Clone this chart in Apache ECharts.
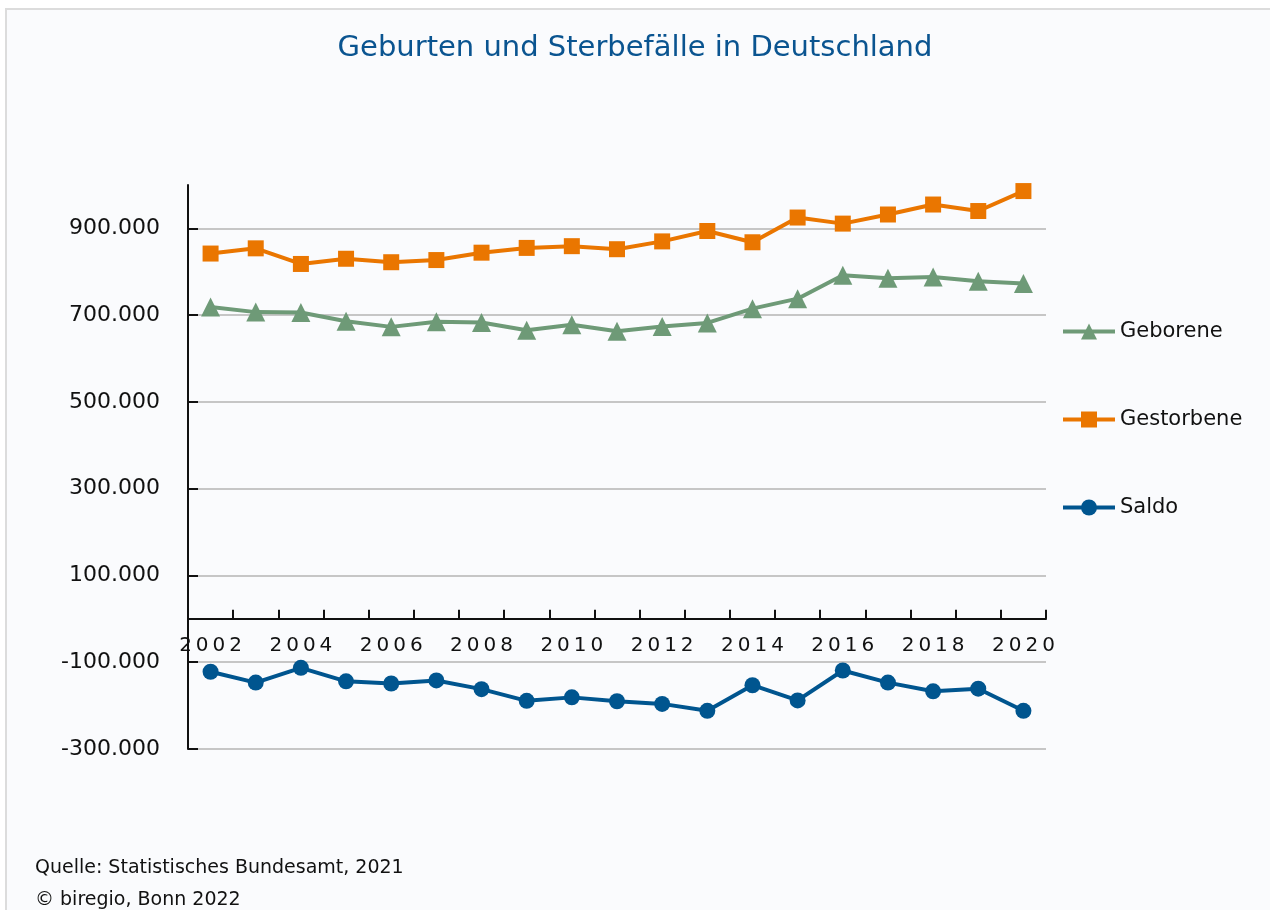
<!DOCTYPE html>
<html>
<head>
<meta charset="utf-8">
<script src="https://cdn.jsdelivr.net/npm/echarts@6/dist/echarts.min.js"></script>
<style>
  html, body { margin: 0; padding: 0; background: #ffffff; }
  #frame {
    position: absolute; left: 5px; top: 8px; width: 1280px; height: 920px;
    background: #fafbfd; border-left: 2px solid #dcdcdc; border-top: 2px solid #dcdcdc;
  }
  #chart { position: absolute; left: 0; top: 0; width: 1270px; height: 910px; }
</style>
</head>
<body>
<div id="frame"></div>
<div id="chart"></div>
<script>
const years = ["2002", "2003", "2004", "2005", "2006", "2007", "2008", "2009", "2010", "2011",
  "2012", "2013", "2014", "2015", "2016", "2017", "2018", "2019", "2020"];

const geborene = [719000, 707000, 706000, 686000, 673000, 685000, 683000, 665000, 678000, 663000,
  674000, 682000, 715000, 738000, 792000, 785000, 788000, 778000, 773000];

const gestorbene = [842000, 854000, 818000, 830000, 822000, 827000, 844000, 855000, 859000, 852000,
  870000, 894000, 868000, 925000, 911000, 932000, 955000, 940000, 986000];

const saldo = [-122000, -147000, -113000, -144000, -149000, -142000, -162000, -189000, -181000, -190000,
  -196000, -212000, -153000, -188000, -119000, -147000, -167000, -161000, -212000];

const yTicks = [-300000, -100000, 100000, 300000, 500000, 700000, 900000];

const FONT = "DejaVu Sans";
const GREEN = "#6e9a77";
const ORANGE = "#ea7600";
const BLUE = "#00558f";

function formatThousands(value) {
  const sign = value < 0 ? "-" : "";
  const abs = Math.abs(value);
  return sign + String(abs).replace(/\B(?=(\d{3})+(?!\d))/g, ".");
}

function lineSeries(name, data, color, symbol, size) {
  return {
    name,
    type: "line",
    data,
    symbol,
    symbolSize: size,
    showAllSymbol: true,
    lineStyle: { width: 4, color },
    itemStyle: { color },
    emphasis: { disabled: true },
    animation: false
  };
}

const chart = echarts.init(document.getElementById("chart"));

chart.setOption({
  backgroundColor: "transparent",
  animation: false,
  title: [
    {
      text: "Geburten und Sterbefälle in Deutschland",
      left: "center",
      top: 29,
      textStyle: { fontFamily: FONT, fontSize: 29, fontWeight: "normal", color: "#0a5490" }
    },
    {
      text: "Quelle: Statistisches Bundesamt, 2021\n© biregio, Bonn 2022",
      left: 30,
      top: 847,
      textStyle: { fontFamily: FONT, fontSize: 19, fontWeight: "normal", color: "#111111", lineHeight: 32 }
    }
  ],
  legend: {
    orient: "vertical",
    left: 1056,
    top: 316,
    itemWidth: 52,
    itemHeight: 20,
    itemGap: 67,
    itemStyle: { borderWidth: 0 },
    lineStyle: { width: 4 },
    textStyle: { fontFamily: FONT, fontSize: 21, color: "#111111", lineHeight: 20 },
    data: ["Geborene", "Gestorbene", "Saldo"]
  },
  grid: { left: 188, right: 224, top: 185, bottom: 161 },
  xAxis: {
    type: "category",
    data: years,
    boundaryGap: true,
    axisLine: { onZero: true, lineStyle: { color: "#111111", width: 2 } },
    axisTick: { show: true, inside: true, length: 9, interval: 0, lineStyle: { color: "#111111", width: 2 } },
    axisLabel: {
      interval: 1,
      margin: -113,
      fontFamily: FONT,
      fontSize: 20,
      color: "#111111",
      formatter: (v) => v.split("").join("\u2009")
    },
    splitLine: { show: false }
  },
  yAxis: {
    type: "value",
    min: -300000,
    max: 1000000,
    interval: 100000,
    axisLine: { show: true, lineStyle: { color: "#111111", width: 2 } },
    axisTick: {
      show: true, inside: true, length: 10, customValues: yTicks,
      lineStyle: { color: "#111111", width: 2 }
    },
    axisLabel: {
      customValues: yTicks,
      margin: 28,
      fontFamily: FONT,
      fontSize: 22,
      color: "#111111",
      formatter: (v) => formatThousands(v)
    },
    splitLine: { show: true, lineStyle: { color: "#c6c6c6", width: 2 } }
  },
  series: [
    lineSeries("Geborene", geborene, GREEN, "triangle", 19),
    lineSeries("Gestorbene", gestorbene, ORANGE, "rect", 16),
    lineSeries("Saldo", saldo, BLUE, "circle", 16)
  ]
});
</script>
</body>
</html>
